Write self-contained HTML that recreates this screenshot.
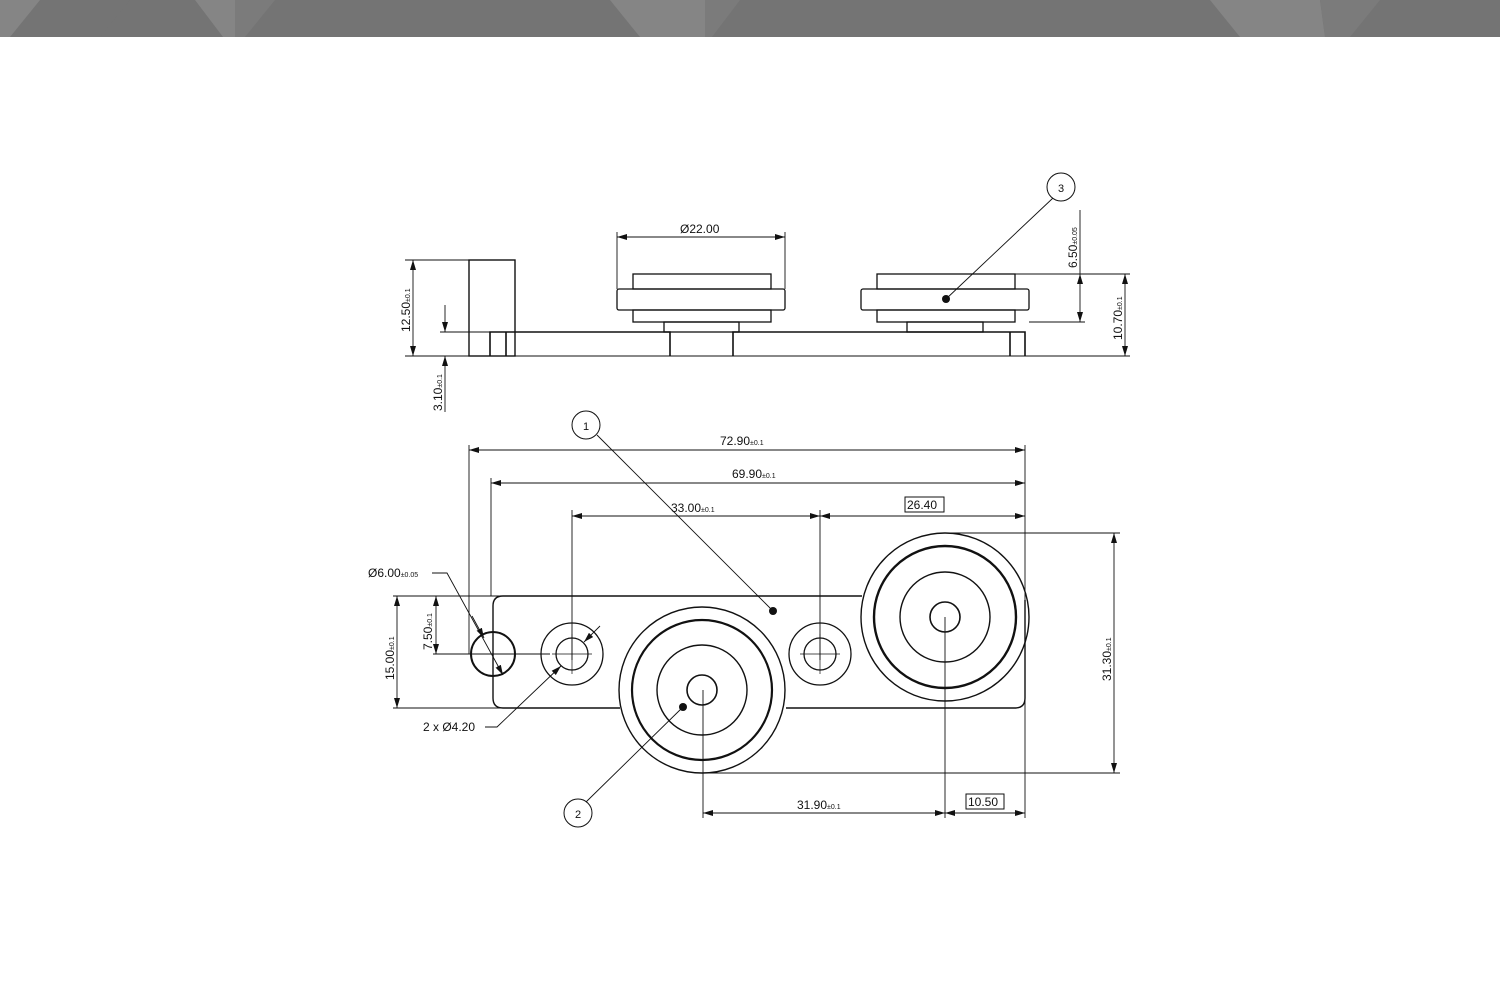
<!DOCTYPE html>
<html><head><meta charset="utf-8"><style>
html,body{margin:0;padding:0;background:#fff;}
svg{display:block}
text{font-family:"Liberation Sans",sans-serif;fill:#111}
</style></head><body>
<svg width="1500" height="1000" viewBox="0 0 1500 1000" xmlns="http://www.w3.org/2000/svg">
<defs>
<marker id="a" viewBox="0 0 10 6" refX="10" refY="3" markerWidth="10" markerHeight="6" orient="auto-start-reverse" markerUnits="userSpaceOnUse"><path d="M0,0 L10,3 L0,6 z" fill="#111"/></marker>
</defs>
<!-- banner -->
<rect x="0" y="0" width="1500" height="37" fill="#747474"/>
<polygon points="0,0 40,0 10,37 0,37" fill="#858585"/>
<polygon points="130,0 195,0 223,37 100,37" fill="#747474"/>
<polygon points="195,0 235,0 235,37 223,37" fill="#858585"/>
<polygon points="235,0 275,0 245,37 235,37" fill="#7b7b7b"/>
<polygon points="610,0 705,0 705,37 640,37" fill="#858585"/>
<polygon points="705,0 740,0 712,37 705,37" fill="#7b7b7b"/>
<polygon points="1210,0 1320,0 1325,37 1240,37" fill="#858585"/>
<polygon points="1320,0 1380,0 1350,37 1325,37" fill="#7b7b7b"/>
<g stroke="#111" fill="none" stroke-width="1.3">
<!-- TOP VIEW -->
<line x1="405" y1="356" x2="1130" y2="356" stroke-width="1"/>
<rect x="469" y="260" width="46" height="96" stroke-width="1.4"/>
<path d="M490,356 V332 H670 V356 M490,332 H506 V356" stroke-width="1.6"/>
<path d="M733,356 V332 H1025 V356 M1010,332 V356" stroke-width="1.6"/>
<rect x="633" y="274" width="138" height="15"/>
<rect x="617" y="289" width="168" height="21" rx="2"/>
<rect x="633" y="310" width="138" height="12"/>
<rect x="664" y="322" width="75" height="10"/>
<rect x="877" y="274" width="138" height="15"/>
<rect x="861" y="289" width="168" height="21" rx="2"/>
<rect x="877" y="310" width="138" height="12"/>
<rect x="907" y="322" width="76" height="10"/>
<g stroke-width="0.9">
<line x1="617" y1="232" x2="617" y2="289"/><line x1="785" y1="232" x2="785" y2="289"/>
<line x1="617" y1="237" x2="785" y2="237" marker-start="url(#a)" marker-end="url(#a)"/>
<line x1="405" y1="260" x2="469" y2="260"/>
<line x1="413" y1="260" x2="413" y2="356" marker-start="url(#a)" marker-end="url(#a)"/>
<line x1="440" y1="332" x2="490" y2="332"/>
<line x1="445" y1="305" x2="445" y2="332" marker-end="url(#a)"/>
<line x1="445" y1="412" x2="445" y2="356" marker-end="url(#a)"/>
<line x1="1015" y1="274" x2="1130" y2="274"/>
<line x1="1029" y1="322" x2="1085" y2="322"/>
<line x1="1080" y1="274" x2="1080" y2="322" marker-start="url(#a)" marker-end="url(#a)"/>
<line x1="1125" y1="274" x2="1125" y2="356" marker-start="url(#a)" marker-end="url(#a)"/>
<line x1="1080" y1="210" x2="1080" y2="274"/>
</g>
<!-- BOTTOM VIEW -->
<path d="M503,596 H862 M1025,600 V698 Q1025,708 1015,708 H786 M620,708 H503 Q493,708 493,698 V606 Q493,596 503,596" stroke-width="1.4"/>
<circle cx="493" cy="654" r="22" stroke-width="2"/>
<circle cx="572" cy="654" r="31"/><circle cx="572" cy="654" r="16"/>
<circle cx="820" cy="654" r="31"/><circle cx="820" cy="654" r="16"/>
<g stroke-width="0.7"><line x1="552" y1="654" x2="592" y2="654"/><line x1="572" y1="634" x2="572" y2="674"/>
<line x1="800" y1="654" x2="840" y2="654"/><line x1="820" y1="634" x2="820" y2="674"/></g>
<circle cx="702" cy="690" r="83" stroke-width="1.4"/>
<circle cx="702" cy="690" r="70" stroke-width="2.2"/>
<circle cx="702" cy="690" r="45" stroke-width="1.4"/>
<circle cx="702" cy="690" r="15" stroke-width="1.6"/>
<circle cx="945" cy="617" r="84" stroke-width="1.4"/>
<circle cx="945" cy="617" r="71" stroke-width="2.4"/>
<circle cx="945" cy="617" r="45" stroke-width="1.4"/>
<circle cx="945" cy="617" r="15" stroke-width="1.6"/>
<g stroke-width="0.9">
<line x1="469" y1="445" x2="469" y2="654"/>
<line x1="491" y1="478" x2="491" y2="596"/>
<line x1="1025" y1="445" x2="1025" y2="818"/>
<line x1="469" y1="450" x2="1025" y2="450" marker-start="url(#a)" marker-end="url(#a)"/>
<line x1="491" y1="483" x2="1025" y2="483" marker-start="url(#a)" marker-end="url(#a)"/>
<line x1="572" y1="510" x2="572" y2="660"/>
<line x1="820" y1="510" x2="820" y2="660"/>
<line x1="572" y1="516" x2="820" y2="516" marker-start="url(#a)" marker-end="url(#a)"/>
<line x1="820" y1="516" x2="1025" y2="516" marker-start="url(#a)" marker-end="url(#a)"/>
<line x1="945" y1="533" x2="1120" y2="533"/>
<line x1="703" y1="773" x2="1120" y2="773"/>
<line x1="1114" y1="533" x2="1114" y2="773" marker-start="url(#a)" marker-end="url(#a)"/>
<line x1="703" y1="690" x2="703" y2="818"/>
<line x1="945" y1="617" x2="945" y2="818"/>
<line x1="703" y1="813" x2="945" y2="813" marker-start="url(#a)" marker-end="url(#a)"/>
<line x1="945" y1="813" x2="1025" y2="813" marker-start="url(#a)" marker-end="url(#a)"/>
<line x1="393" y1="596" x2="503" y2="596"/>
<line x1="393" y1="708" x2="503" y2="708"/>
<line x1="397" y1="596" x2="397" y2="708" marker-start="url(#a)" marker-end="url(#a)"/>
<line x1="433" y1="654" x2="550" y2="654"/>
<line x1="436" y1="596" x2="436" y2="654" marker-start="url(#a)" marker-end="url(#a)"/>
<path d="M432,573 H447 L503,675" marker-end="url(#a)"/>
<line x1="472" y1="616" x2="484" y2="638" marker-end="url(#a)"/>
<path d="M485,727 H497 L561,666" marker-end="url(#a)"/>
<line x1="600" y1="626" x2="584" y2="642" marker-end="url(#a)"/>
<line x1="597" y1="435" x2="773" y2="611"/>
<line x1="586" y1="802" x2="683" y2="707"/>
<line x1="1053" y1="198" x2="946" y2="299"/>
</g>
<circle cx="586" cy="425" r="14" stroke-width="1"/>
<circle cx="578" cy="813" r="14" stroke-width="1"/>
<circle cx="1061" cy="187" r="14" stroke-width="1"/>
<rect x="905" y="497" width="39" height="15" stroke-width="1"/>
<rect x="966" y="794" width="38" height="15" stroke-width="1"/>
</g>
<circle cx="773" cy="611" r="4" fill="#111"/>
<circle cx="683" cy="707" r="4" fill="#111"/>
<circle cx="946" cy="299" r="4" fill="#111"/>
<g font-size="12">
<text x="586" y="430" text-anchor="middle" font-size="11">1</text>
<text x="578" y="818" text-anchor="middle" font-size="11">2</text>
<text x="1061" y="192" text-anchor="middle" font-size="11">3</text>
<text x="680" y="233">Ø22.00</text>
<text x="720" y="445">72.90<tspan font-size="7">±0.1</tspan></text>
<text x="732" y="478">69.90<tspan font-size="7">±0.1</tspan></text>
<text x="671" y="512">33.00<tspan font-size="7">±0.1</tspan></text>
<text x="907" y="509">26.40</text>
<text x="968" y="806">10.50</text>
<text x="797" y="809">31.90<tspan font-size="7">±0.1</tspan></text>
<text x="368" y="577">Ø6.00<tspan font-size="7">±0.05</tspan></text>
<text x="423" y="731">2 x Ø4.20</text>
<text transform="translate(410,332) rotate(-90)">12.50<tspan font-size="7">±0.1</tspan></text>
<text transform="translate(442,411) rotate(-90)">3.10<tspan font-size="7">±0.1</tspan></text>
<text transform="translate(1077,268) rotate(-90)">6.50<tspan font-size="7">±0.05</tspan></text>
<text transform="translate(1122,340) rotate(-90)">10.70<tspan font-size="7">±0.1</tspan></text>
<text transform="translate(1111,681) rotate(-90)">31.30<tspan font-size="7">±0.1</tspan></text>
<text transform="translate(394,680) rotate(-90)">15.00<tspan font-size="7">±0.1</tspan></text>
<text transform="translate(432,650) rotate(-90)">7.50<tspan font-size="7">±0.1</tspan></text>
</g>
</svg>
</body></html>
